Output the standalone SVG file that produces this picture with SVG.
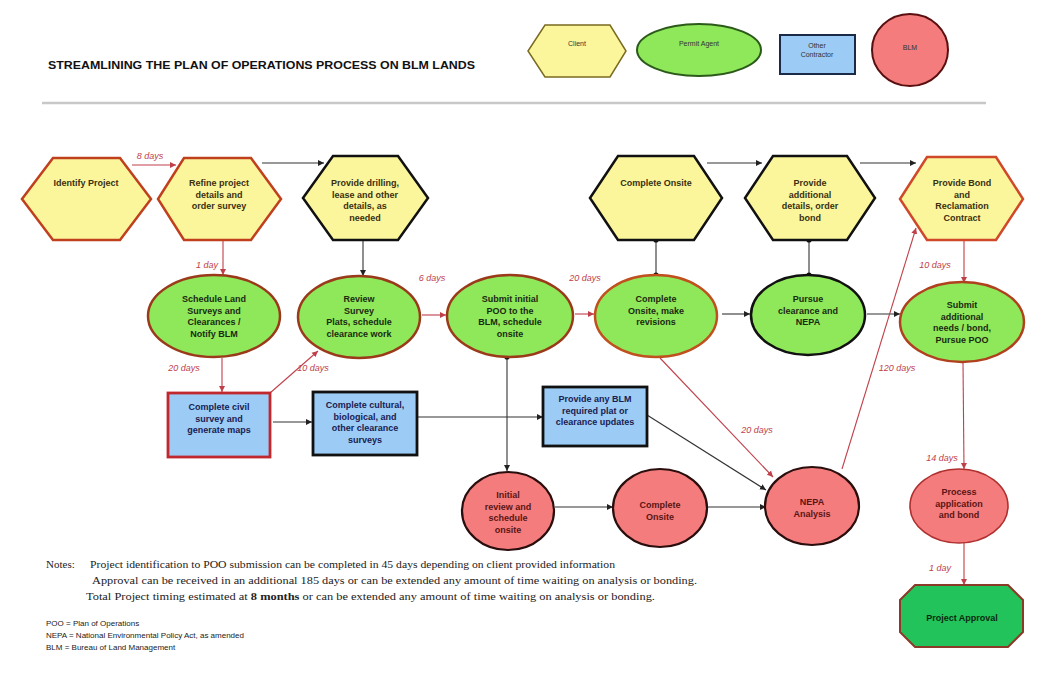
<svg xmlns="http://www.w3.org/2000/svg" width="1054" height="682" viewBox="0 0 1054 682">
<defs>
<marker id="ar" markerUnits="userSpaceOnUse" markerWidth="7" markerHeight="7" refX="6" refY="3.5" orient="auto"><path d="M0,0.5 L6,3.5 L0,6.5 Z" fill="#c0404a"/></marker>
<marker id="ab" markerUnits="userSpaceOnUse" markerWidth="7" markerHeight="7" refX="6" refY="3.5" orient="auto"><path d="M0,0.5 L6,3.5 L0,6.5 Z" fill="#222"/></marker>
<marker id="dot" markerUnits="userSpaceOnUse" markerWidth="6" markerHeight="6" refX="3" refY="3"><circle cx="3" cy="3" r="2.6" fill="#111"/></marker>
</defs>
<style>
text{font-family:"Liberation Sans",Arial,sans-serif}
.nt{font-size:9px;font-weight:bold;text-anchor:middle}
.hx{fill:#fbf69c;stroke-width:2.5}
.gr{fill:#8fe75a;stroke-width:2.5}
.bl{fill:#9ccbf5;stroke-width:2.8}
.rd{fill:#f47c7c;stroke-width:2.2;stroke:#2a0e0e}
.ht{fill:#3a3010}
.gt{fill:#1a2a10}
.bt{fill:#1a2050}
.rt{fill:#5a1515}
.cr{fill:none;stroke:#c0404a;stroke-width:1.1;marker-end:url(#ar)}
.cb{fill:none;stroke:#333;stroke-width:1.1;marker-end:url(#ab)}
.lb{font-size:9px;font-style:italic;fill:#c0404a;text-anchor:middle}
.lg{font-size:7px;fill:#333;text-anchor:middle}
.note{font-family:"Liberation Serif","Times New Roman",serif;font-size:11px;fill:#222}
.ab{font-size:8px;fill:#222}
</style>
<text x="48" y="69" font-size="10.5" font-weight="bold" fill="#111" textLength="427" lengthAdjust="spacingAndGlyphs">STREAMLINING THE PLAN OF OPERATIONS PROCESS ON BLM LANDS</text>
<g id="legend">
<polygon points="545,25 610,25 626,51 610,77 545,77 528,51" fill="#fbf69c" stroke="#7a6a20" stroke-width="1.5"/>
<text class="lg" x="577" y="46">Client</text>
<ellipse cx="699" cy="50" rx="62" ry="26" fill="#8fe75a" stroke="#2c5a1a" stroke-width="2"/>
<text class="lg" x="699" y="46">Permit Agent</text>
<rect x="780" y="35" width="75" height="39" fill="#9ccbf5" stroke="#1c2a4a" stroke-width="2"/>
<text class="lg" x="817" y="48">Other</text>
<text class="lg" x="817" y="57">Contractor</text>
<ellipse cx="910" cy="50" rx="38" ry="36" fill="#f47c7c" stroke="#5a1010" stroke-width="2"/>
<text class="lg" x="910" y="50">BLM</text>
</g>
<line x1="42" y1="103" x2="986" y2="103" stroke="#c8c8c8" stroke-width="2.5"/>
<g id="connectors">
<line class="cr" x1="132" y1="165" x2="176" y2="165"/>
<line class="cb" x1="262" y1="163" x2="324" y2="163"/>
<line class="cb" x1="707" y1="163" x2="762" y2="163"/>
<line class="cb" x1="860" y1="163" x2="916" y2="163"/>
<line class="cr" x1="223" y1="241" x2="223" y2="275"/>
<line class="cb" x1="363" y1="241" x2="363" y2="276"/>
<line class="cr" x1="222" y1="358" x2="222" y2="392"/>
<line class="cr" x1="270" y1="393" x2="318" y2="351"/>
<line class="cb" x1="273" y1="422" x2="312" y2="422"/>
<line class="cr" x1="422" y1="315" x2="446" y2="315"/>
<line class="cb" x1="417" y1="417" x2="543" y2="417"/>
<line class="cb" x1="507" y1="357" x2="507" y2="471" marker-start="url(#dot)"/>
<line class="cr" x1="575" y1="314" x2="594" y2="314"/>
<line x1="656" y1="240" x2="656" y2="275" stroke="#333" stroke-width="1.1" marker-start="url(#dot)" marker-end="url(#dot)"/>
<line x1="809" y1="240" x2="809" y2="275" stroke="#333" stroke-width="1.1" marker-start="url(#dot)" marker-end="url(#dot)"/>
<line class="cb" x1="722" y1="314" x2="750" y2="314"/>
<line class="cb" x1="867" y1="314" x2="900" y2="314"/>
<line class="cr" x1="964" y1="241" x2="964" y2="283"/>
<line class="cr" x1="660" y1="358" x2="773" y2="477"/>
<line class="cb" x1="647" y1="415" x2="766" y2="490"/>
<line class="cb" x1="555" y1="507" x2="613" y2="507"/>
<line class="cb" x1="707" y1="507" x2="766" y2="507"/>
<line class="cr" x1="842" y1="469" x2="916" y2="228"/>
<line class="cr" x1="963" y1="362" x2="964" y2="469"/>
<line class="cr" x1="964" y1="543" x2="964" y2="585"/>
<text class="lb" x="150" y="159">8 days</text>
<text class="lb" x="207" y="268">1 day</text>
<text class="lb" x="432" y="281">6 days</text>
<text class="lb" x="585" y="281">20 days</text>
<text class="lb" x="935" y="268">10 days</text>
<text class="lb" x="184" y="371">20 days</text>
<text class="lb" x="313" y="371">10 days</text>
<text class="lb" x="897" y="371">120 days</text>
<text class="lb" x="757" y="433">20 days</text>
<text class="lb" x="942" y="461">14 days</text>
<text class="lb" x="940" y="571">1 day</text>
</g>
<g id="identify-project">
<polygon class="hx" points="53,158 120,158 151,199 120,240 53,240 22,199" stroke="#c0401e"/>
<text class="nt ht" x="86" y="186">Identify Project</text>
</g>
<g id="refine-project">
<polygon class="hx" points="184,158 251,158 281,199 251,240 184,240 158,199" stroke="#c0401e"/>
<text class="nt ht" x="219" y="186">Refine project</text>
<text class="nt ht" x="219" y="197.5">details and</text>
<text class="nt ht" x="219" y="209">order survey</text>
</g>
<g id="provide-drilling">
<polygon class="hx" points="333,156 398,156 428,198 398,240 333,240 303,198" stroke="#111"/>
<text class="nt ht" x="365" y="186">Provide drilling,</text>
<text class="nt ht" x="365" y="197.5">lease and other</text>
<text class="nt ht" x="365" y="209">details, as</text>
<text class="nt ht" x="365" y="220.5">needed</text>
</g>
<g id="complete-onsite-client">
<polygon class="hx" points="618,156 694,156 722,198 694,240 618,240 590,198" stroke="#111"/>
<text class="nt ht" x="656" y="186">Complete Onsite</text>
</g>
<g id="provide-additional">
<polygon class="hx" points="773,156 847,156 875,198 847,240 773,240 745,198" stroke="#111"/>
<text class="nt ht" x="810" y="186">Provide</text>
<text class="nt ht" x="810" y="197.5">additional</text>
<text class="nt ht" x="810" y="209">details, order</text>
<text class="nt ht" x="810" y="220.5">bond</text>
</g>
<g id="provide-bond">
<polygon class="hx" points="927,157 996,157 1023,199 996,240 927,240 900,199" stroke="#d0482a"/>
<text class="nt ht" x="962" y="186">Provide Bond</text>
<text class="nt ht" x="962" y="197.5">and</text>
<text class="nt ht" x="962" y="209">Reclamation</text>
<text class="nt ht" x="962" y="220.5">Contract</text>
</g>
<g id="schedule-land">
<ellipse class="gr" cx="214" cy="316" rx="66" ry="41" stroke="#9a3a1a"/>
<text class="nt gt" x="214" y="302">Schedule Land</text>
<text class="nt gt" x="214" y="313.5">Surveys and</text>
<text class="nt gt" x="214" y="325">Clearances /</text>
<text class="nt gt" x="214" y="336.5">Notify BLM</text>
</g>
<g id="review-survey">
<ellipse class="gr" cx="359" cy="317" rx="61" ry="41" stroke="#9a3a1a"/>
<text class="nt gt" x="359" y="302">Review</text>
<text class="nt gt" x="359" y="313.5">Survey</text>
<text class="nt gt" x="359" y="325">Plats, schedule</text>
<text class="nt gt" x="359" y="336.5">clearance work</text>
</g>
<g id="submit-initial">
<ellipse class="gr" cx="510" cy="316" rx="63" ry="41" stroke="#9a3a1a"/>
<text class="nt gt" x="510" y="302">Submit initial</text>
<text class="nt gt" x="510" y="313.5">POO to the</text>
<text class="nt gt" x="510" y="325">BLM, schedule</text>
<text class="nt gt" x="510" y="336.5">onsite</text>
</g>
<g id="complete-onsite-agent">
<ellipse class="gr" cx="656" cy="316" rx="61" ry="41" stroke="#c0501e"/>
<text class="nt gt" x="656" y="302">Complete</text>
<text class="nt gt" x="656" y="313.5">Onsite, make</text>
<text class="nt gt" x="656" y="325">revisions</text>
</g>
<g id="pursue-clearance">
<ellipse class="gr" cx="808" cy="315" rx="57" ry="40" stroke="#111"/>
<text class="nt gt" x="808" y="302">Pursue</text>
<text class="nt gt" x="808" y="313.5">clearance and</text>
<text class="nt gt" x="808" y="325">NEPA</text>
</g>
<g id="submit-additional">
<ellipse class="gr" cx="962" cy="322" rx="62" ry="40" stroke="#b0401e"/>
<text class="nt gt" x="962" y="308">Submit</text>
<text class="nt gt" x="962" y="319.5">additional</text>
<text class="nt gt" x="962" y="331">needs / bond,</text>
<text class="nt gt" x="962" y="342.5">Pursue POO</text>
</g>
<g id="complete-civil">
<rect class="bl" x="168" y="393" width="102" height="64" stroke="#c0282d"/>
<text class="nt bt" x="219" y="410">Complete civil</text>
<text class="nt bt" x="219" y="421.5">survey and</text>
<text class="nt bt" x="219" y="433">generate maps</text>
</g>
<g id="complete-cultural">
<rect class="bl" x="313" y="392" width="104" height="63" stroke="#111"/>
<text class="nt bt" x="365" y="408">Complete cultural,</text>
<text class="nt bt" x="365" y="419.5">biological, and</text>
<text class="nt bt" x="365" y="431">other clearance</text>
<text class="nt bt" x="365" y="442.5">surveys</text>
</g>
<g id="provide-any-blm">
<rect class="bl" x="543" y="387" width="104" height="59" stroke="#111" stroke-width="2.5"/>
<text class="nt bt" x="595" y="402">Provide any BLM</text>
<text class="nt bt" x="595" y="413.5">required plat or</text>
<text class="nt bt" x="595" y="425">clearance updates</text>
</g>
<g id="initial-review">
<ellipse class="rd" cx="508" cy="511" rx="46" ry="39"/>
<text class="nt rt" x="508" y="498">Initial</text>
<text class="nt rt" x="508" y="509.5">review and</text>
<text class="nt rt" x="508" y="521">schedule</text>
<text class="nt rt" x="508" y="532.5">onsite</text>
</g>
<g id="complete-onsite-blm">
<ellipse class="rd" cx="660" cy="508" rx="47" ry="39"/>
<text class="nt rt" x="660" y="508">Complete</text>
<text class="nt rt" x="660" y="519.5">Onsite</text>
</g>
<g id="nepa-analysis">
<ellipse class="rd" cx="812" cy="506" rx="47" ry="39"/>
<text class="nt rt" x="812" y="505">NEPA</text>
<text class="nt rt" x="812" y="516.5">Analysis</text>
</g>
<g id="process-application">
<ellipse cx="959" cy="506" rx="49" ry="37" fill="#f47c7c" stroke="#b03030" stroke-width="1.6"/>
<text class="nt rt" x="959" y="495" font-weight="normal">Process</text>
<text class="nt rt" x="959" y="506.5" font-weight="normal">application</text>
<text class="nt rt" x="959" y="518" font-weight="normal">and bond</text>
</g>
<g id="project-approval">
<polygon points="915,585 1008,585 1023,600 1023,632 1008,647 915,647 900,632 900,600" fill="#22c35a" stroke="#8b3a2a" stroke-width="2"/>
<text class="nt" x="962" y="621" font-size="10" fill="#0a2a10">Project Approval</text>
</g>
<g id="notes">
<text class="note" x="46" y="568">Notes:</text>
<text class="note" x="90" y="568" textLength="525" lengthAdjust="spacingAndGlyphs">Project identification to POO submission can be completed in 45 days depending on client provided information</text>
<text class="note" x="92" y="584" textLength="605" lengthAdjust="spacingAndGlyphs">Approval can be received in an additional 185 days or can be extended any amount of time waiting on analysis or bonding.</text>
<text class="note" x="86" y="600" textLength="569" lengthAdjust="spacingAndGlyphs">Total Project timing estimated at <tspan font-weight="bold">8 months</tspan> or can be extended any amount of time waiting on analysis or bonding.</text>
<text class="ab" x="46" y="626">POO = Plan of Operations</text>
<text class="ab" x="46" y="638">NEPA = National Environmental Policy Act, as amended</text>
<text class="ab" x="46" y="650">BLM = Bureau of Land Management</text>
</g>
</svg>
